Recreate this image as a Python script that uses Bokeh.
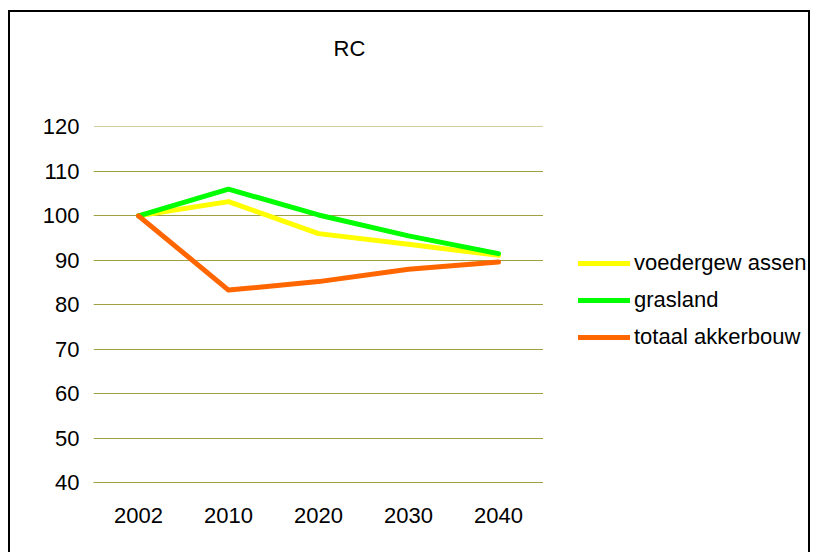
from bokeh.plotting import figure
from bokeh.layouts import row, column
from bokeh.models import FixedTicker, Legend, LegendItem, Title, FactorRange, Range1d
from bokeh.embed import file_html
from bokeh.resources import INLINE

years = ["2002", "2010", "2020", "2030", "2040"]
voedergewassen = [100, 103.2, 96.0, 93.6, 91.1]
grasland = [100, 106.0, 100.2, 95.5, 91.5]
akkerbouw = [100, 83.3, 85.2, 88.0, 89.6]
y_ticks = [40, 50, 60, 70, 80, 90, 100, 110, 120]

names = ["voedergew assen", "grasland", "totaal akkerbouw"]
colors = ["#FFFF00", "#00FF00", "#FF6600"]
series = [voedergewassen, grasland, akkerbouw]

FONT = "Liberation Sans"
FS = "22px"
GRID = "#a0a040"

# ---- title strip --------------------------------------------------------------
pt = figure(width=533, height=80, x_range=Range1d(0, 1), y_range=Range1d(0, 1),
            output_backend="svg", toolbar_location=None,
            x_axis_location=None, y_axis_location=None,
            min_border_left=0, min_border_right=0, min_border_top=0, min_border_bottom=0)
pt.title = None
pt.grid.visible = False
pt.outline_line_color = None
pt.add_layout(Title(text="RC", align="left", offset=240, standoff=43,
                    text_font=FONT, text_font_size=FS, text_font_style="normal",
                    text_color="black"), "above")

# ---- main chart -------------------------------------------------------------
p = figure(width=533, height=460, x_range=FactorRange(*years), y_range=Range1d(40, 120.1),
           output_backend="svg", toolbar_location=None,
           min_border_left=83, min_border_right=0, min_border_top=34, min_border_bottom=70)
p.title = None

for name, col, vals in zip(names, colors, series):
    p.line(years, vals, line_color=col, line_width=5, line_cap="round", line_join="round")

p.outline_line_color = None
p.xgrid.grid_line_color = None
p.ygrid.grid_line_color = GRID
p.ygrid.ticker = FixedTicker(ticks=y_ticks)

p.yaxis.ticker = FixedTicker(ticks=y_ticks)
p.yaxis.axis_line_color = None
p.yaxis.major_tick_line_color = None
p.yaxis.minor_tick_line_color = None
p.yaxis.major_label_standoff = 8
p.yaxis.major_label_text_font = FONT
p.yaxis.major_label_text_font_size = FS
p.yaxis.major_label_text_color = "black"

p.xaxis.axis_line_color = GRID
p.xaxis.major_tick_line_color = None
p.xaxis.minor_tick_line_color = None
p.xaxis.major_label_standoff = 19
p.xaxis.major_label_text_font = FONT
p.xaxis.major_label_text_font_size = FS
p.xaxis.major_label_text_color = "black"

# ---- legend panel -------------------------------------------------------------
pl = figure(width=265, height=540, x_range=Range1d(0, 1), y_range=Range1d(0, 1),
            output_backend="svg", toolbar_location=None,
            min_border_left=0, min_border_right=0, min_border_top=0, min_border_bottom=0)
pl.title = None
pl.axis.visible = False
pl.grid.visible = False
pl.outline_line_color = None

nan = float("nan")
items = []
for name, col in zip(names, colors):
    r = pl.line([nan], [nan], line_color=col, line_width=5, line_cap="round")
    items.append(LegendItem(label=name, renderers=[r]))

legend = Legend(items=items, location=(35, 200), orientation="vertical",
                glyph_width=52, glyph_height=30, label_height=30, spacing=7,
                label_standoff=4, padding=0, margin=0,
                border_line_color=None, background_fill_alpha=0,
                label_text_font=FONT, label_text_font_size=FS, label_text_color="black")
pl.add_layout(legend, "center")

layout = row(column(pt, p, spacing=0), pl, spacing=0,
             styles={"margin-left": "8px", "margin-top": "10px",
                     "border-top": "2px solid black", "border-left": "2px solid black",
                     "border-right": "2px solid black"})

open("out.html", "w").write(file_html(layout, INLINE))
